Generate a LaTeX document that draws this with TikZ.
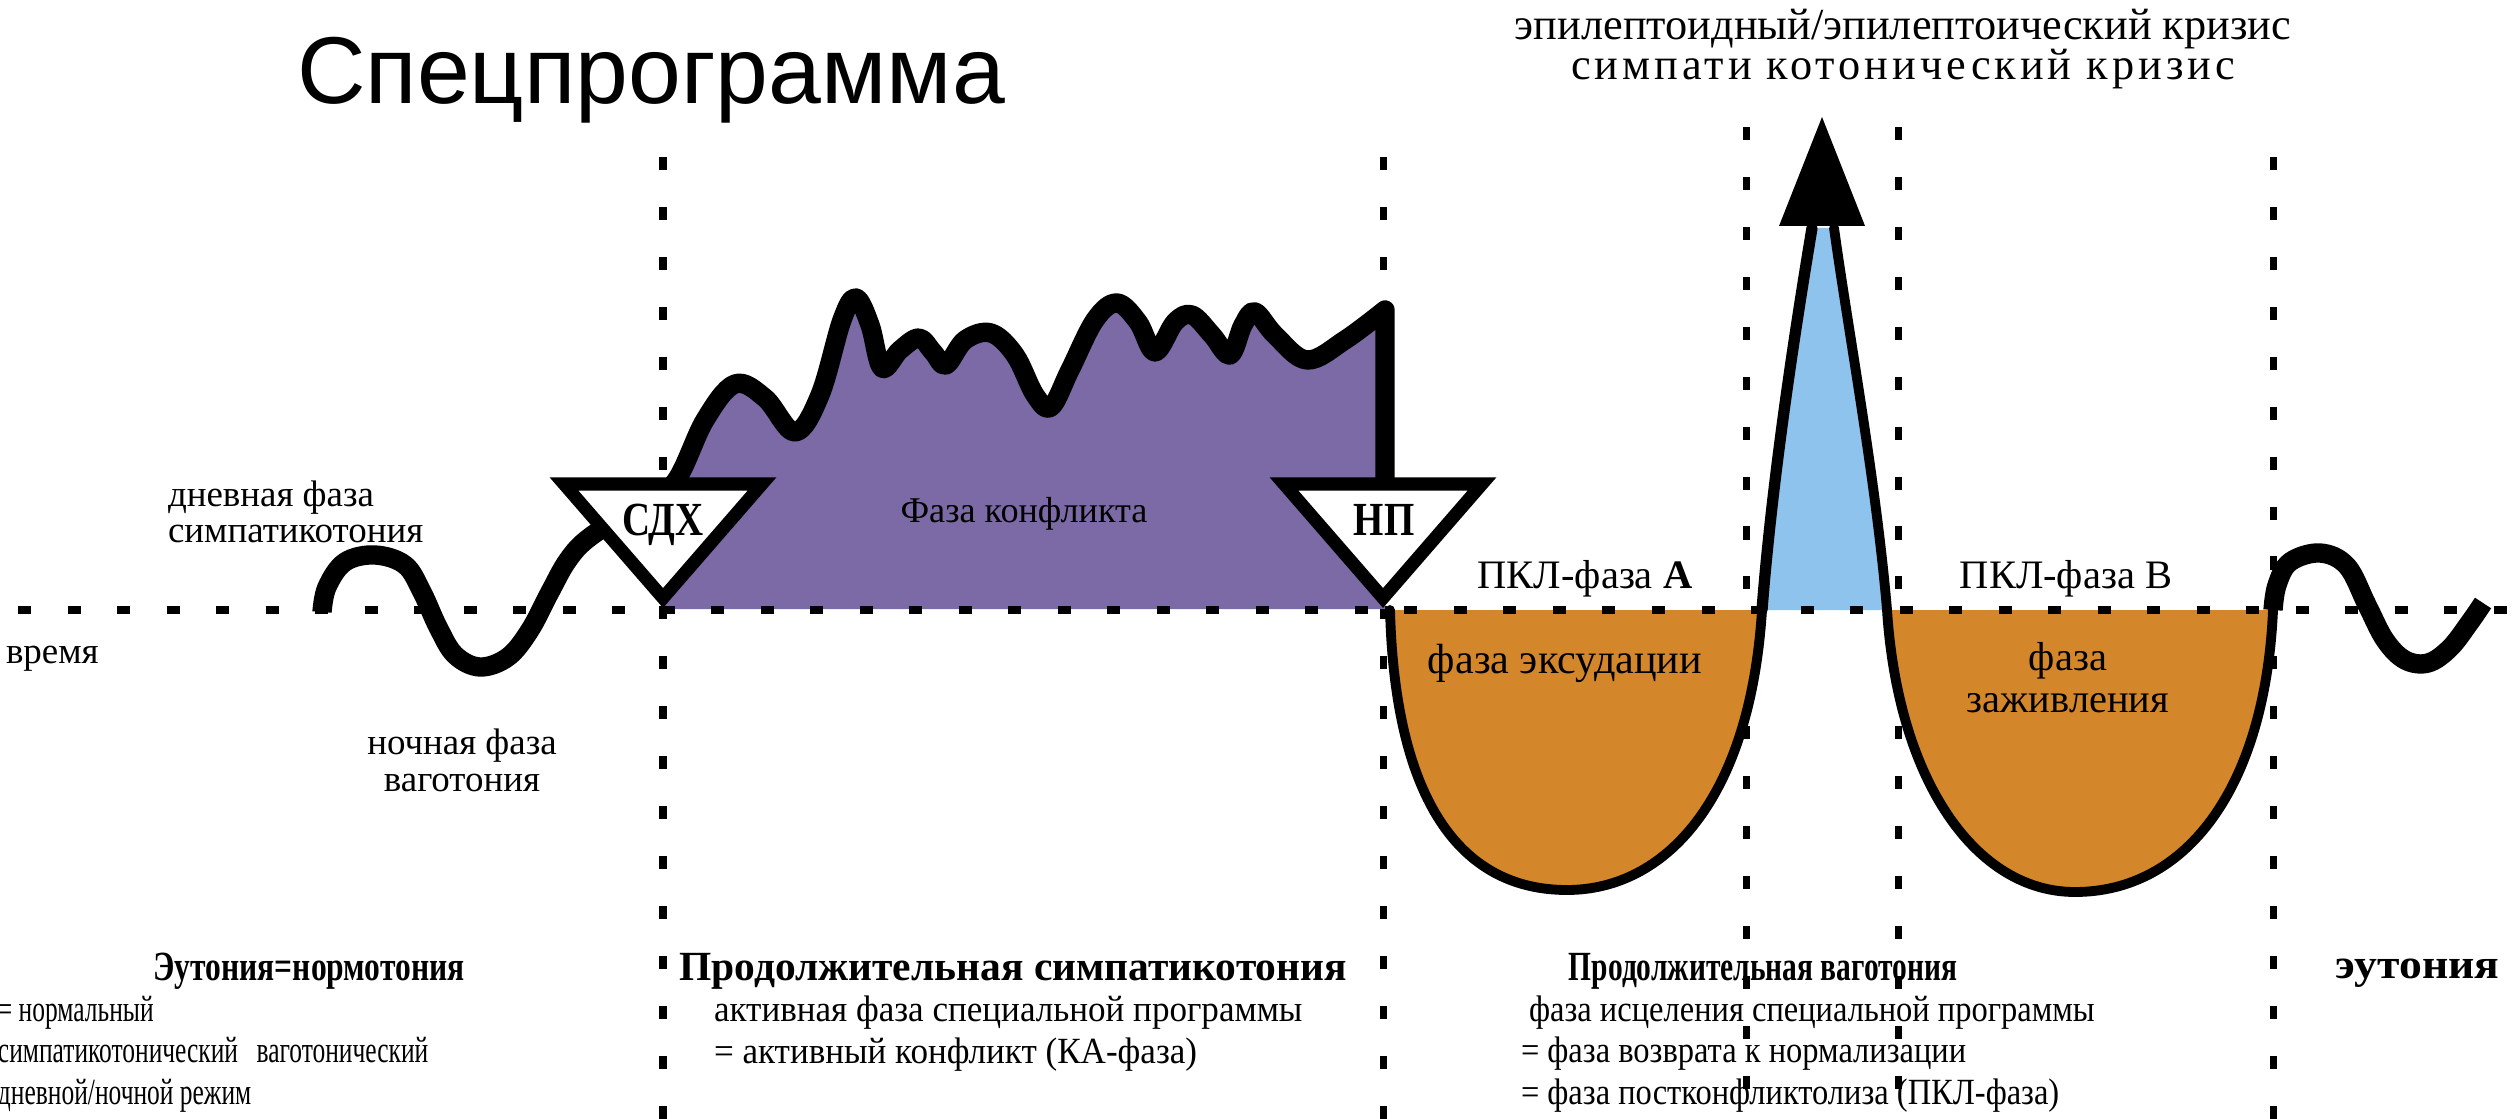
\documentclass[tikz,border=0pt]{standalone}
\usepackage{fontspec}
\setmainfont{Liberation Serif}
\newfontfamily\titlefont{Liberation Sans}
\usetikzlibrary{positioning}
\definecolor{conflict}{HTML}{7B6AA6}
\definecolor{healing}{HTML}{D4862A}
\definecolor{crisis}{HTML}{8DC3EC}

\begin{document}
\begin{tikzpicture}[x=0.01cm, y=-0.01cm,
  every node/.style={font=\fontsize{10.5}{10.5}\selectfont, inner sep=0pt, outer sep=0pt},
  phaseline/.style={line width=2pt, dash pattern=on 3.7pt off 10.5pt},
  timeline/.style={line width=2.2pt, dash pattern=on 3.7pt off 10.38pt},
  tonus/.style={line width=5.5pt, line join=round},
  rim/.style={line width=2.8pt, line join=round, line cap=round},
  marker/.style={draw, line width=3.7pt, fill=white, line join=miter},
  switchlabel/.style={font=\fontsize{13.5}{15}\selectfont\bfseries\addfontfeature{FakeStretch=0.82}, anchor=base},
  colhead/.style={font=\fontsize{11.8}{13}\selectfont\bfseries\addfontfeature{FakeStretch=#1}, anchor=base},
  colhead/.default=1,
  colline/.style={font=\fontsize{10.5}{11.7}\selectfont\addfontfeature{FakeStretch=#1}, anchor=base west, align=left},
  colline/.default=1]
  \useasboundingbox (0,0) rectangle (2516,1119);

  % phase borders
  \foreach \x/\top in {663/157, 1383/157, 1746/127, 1898/127, 2273/157}
    \draw[phaseline] (\x,\top) -- (\x,1119);

  % conflict phase
  \fill[conflict] (663,609) -- plot[smooth, tension=0.6] coordinates {(675,482) (705,420) (735,384) (765,398) (795,432) (820,395) (842,320) (856,298) (870,325) (882,368) (900,350) (919,338) (933,352) (946,365) (965,340) (991,333) (1015,355) (1035,395) (1051,407) (1070,370) (1095,320) (1117,303) (1138,322) (1155,352) (1175,322) (1192,315) (1212,335) (1230,355) (1243,325) (1255,312) (1275,335) (1307,360) (1345,340) (1385,310)} -- (1385,609) -- cycle;

  % healing phases
  \fill[crisis] (1762,610) .. controls (1772,480) and (1795,330) .. (1812,228) -- (1834,228) .. controls (1848,330) and (1876,480) .. (1887,610) -- cycle;
  \draw[rim, fill=healing] (1390,610) .. controls (1395,800) and (1460,890) .. (1567,890) .. controls (1665,890) and (1750,800) .. (1762,610);
  \draw[rim, fill=healing] (1887,610) .. controls (1898,780) and (1975,892) .. (2075,892) .. controls (2185,892) and (2265,790) .. (2273,610);

  % time axis
  \draw[timeline] (18,610) -- (2516,610);

  % tonus curve
  \draw[tonus] plot[smooth, tension=0.6] coordinates {(322,612) (327,587) (345,562) (375,555) (405,565) (422,592) (438,627) (455,655) (480,667) (508,657) (530,630) (550,592) (568,560) (590,537) (640,505) (675,482) (705,420) (735,384) (765,398) (795,432) (820,395) (842,320) (856,298) (870,325) (882,368) (900,350) (919,338) (933,352) (946,365) (965,340) (991,333) (1015,355) (1035,395) (1051,407) (1070,370) (1095,320) (1117,303) (1138,322) (1155,352) (1175,322) (1192,315) (1212,335) (1230,355) (1243,325) (1255,312) (1275,335) (1307,360) (1345,340) (1385,310)} -- (1385,484);
  \draw[rim, line width=3.2pt] (1762,610) .. controls (1772,480) and (1795,330) .. (1812,228);
  \draw[rim] (1834,228) .. controls (1848,330) and (1876,480) .. (1887,610);
  \draw[tonus] plot[smooth, tension=0.6] coordinates {(2273,610) (2277,585) (2290,562) (2320,553) (2347,566) (2367,605) (2385,640) (2405,660) (2428,663) (2450,648) (2470,622) (2483,603)};

  % crisis arrow head
  \fill (1779,226) -- (1865,226) -- (1822,117) -- cycle;

  % switch markers
  \draw[marker] (564,484) -- (762,484) -- (663,598) -- cycle;
  \node[switchlabel] (sdh) at (663,535) {СДХ};
  \draw[marker] (1284,484) -- (1482,484) -- (1383,598) -- cycle;
  \node[switchlabel] (np) at (1384,535) {НП};

  % labels
  \node[font=\titlefont\fontsize{27}{30}\selectfont, anchor=base west] (title) at (297,104) {Спецпрограмма};
  \node[font=\fontsize{12.6}{11.4}\selectfont, anchor=base, align=center] (crisis) at (1903,80) {эпилептоидный/эпилептоический кризис\\{\addfontfeature{LetterSpace=9}симпати котонический кризис}};
  \node[font=\fontsize{10.5}{10.2}\selectfont, anchor=base west, align=left] (day) at (168,542) {дневная фаза\\симпатикотония};
  \node[anchor=base west] (time) at (6,663) {время};
  \node[anchor=base, align=center] (night) at (462,791) {ночная фаза\\ваготония};
  \node[font=\fontsize{10.3}{12}\selectfont, anchor=base] (conflictlabel) at (1024,523) {Фаза конфликта};
  \node[font=\fontsize{11.5}{12}\selectfont, anchor=base] (pclA) at (1585,589) {ПКЛ-фаза \textbf{А}};
  \node[font=\fontsize{11.5}{12}\selectfont, anchor=base] (pclB) at (2066,589) {ПКЛ-фаза В};
  \node[font=\fontsize{12}{14}\selectfont, anchor=base] (exudation) at (1565,673) {фаза эксудации};
  \node[font=\fontsize{11.5}{11.7}\selectfont, anchor=base, align=center] (repair) at (2068,712) {фаза\\заживления};

  % columns
  \node[colhead=0.76] (eutonia) at (309,980) {Эутония=нормотония};
  \node[colline=0.69] (eutext) at (-2,1104) {= нормальный\\ симпатикотонический\enspace ваготонический\\дневной/ночной режим};
  \node[colhead] (sympath) at (1013,980) {Продолжительная симпатикотония};
  \node[colline=0.95] (katext) at (714,1063) {активная фаза специальной программы\\= активный конфликт (КА-фаза)};
  \node[colhead=0.71] (vagot) at (1763,980) {Продолжительная ваготония};
  \node[colline=0.88] (pcltext) at (1521,1104) {\ фаза исцеления специальной программы\\= фаза возврата к нормализации\\= фаза постконфликтолиза (ПКЛ-фаза)};
  \node[colhead=1.1, anchor=base west] (eutonia2) at (2335,978) {эутония};
\end{tikzpicture}
\end{document}
